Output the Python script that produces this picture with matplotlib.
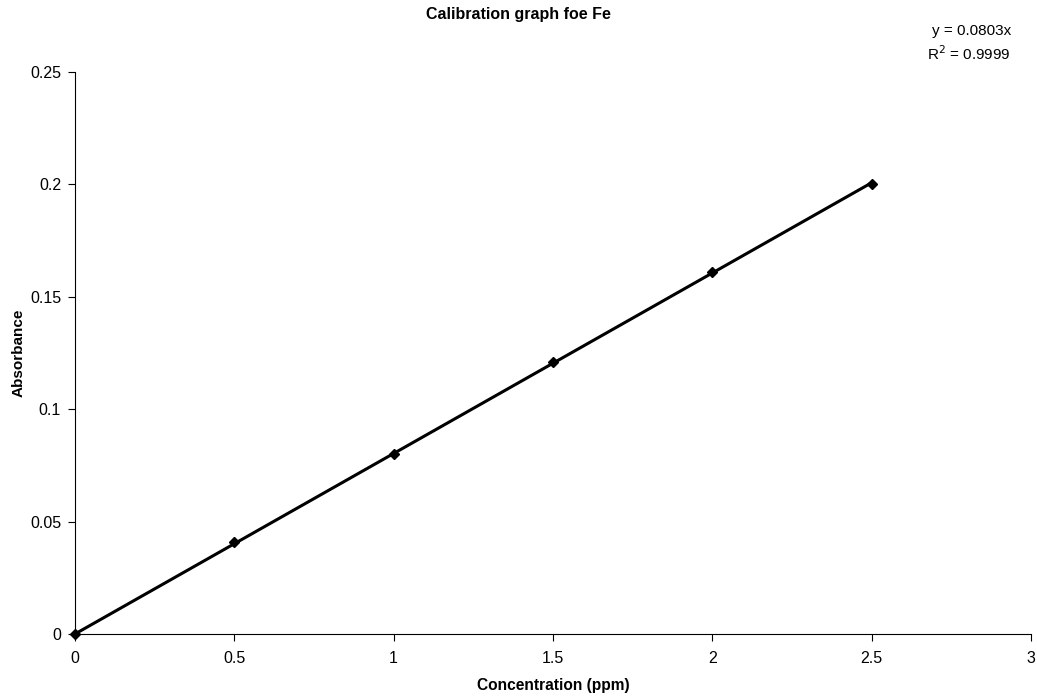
import numpy as np
import matplotlib.pyplot as plt

plt.rcParams['font.family'] = ['Liberation Sans', 'DejaVu Sans']

# Standards: concentration (ppm) vs measured absorbance
conc = [0, 0.5, 1.0, 1.5, 2.0, 2.5]
absorbance = [0.0, 0.041, 0.080, 0.121, 0.161, 0.200]
slope = 0.0803
r_squared = 0.9999

fig = plt.figure(figsize=(10.37, 7), dpi=100)
ax = fig.add_axes([0.0723, 0.0943, 0.9219, 0.8028])

# linear trendline through the origin
xfit = np.array([0, max(conc)])
ax.plot(xfit, slope * xfit, color='black', lw=2.2, zorder=2)
ax.plot(conc, absorbance, linestyle='none', marker='D', ms=5,
        color='black', zorder=3, clip_on=False)

ax.set_xlim(0, 3)
ax.set_ylim(0, 0.25)
ax.set_xticks([0, 0.5, 1, 1.5, 2, 2.5, 3])
ax.set_xticklabels(['0', '0.5', '1', '1.5', '2', '2.5', '3'])
ax.set_yticks([0, 0.05, 0.1, 0.15, 0.2, 0.25])
ax.set_yticklabels(['0', '0.05', '0.1', '0.15', '0.2', '0.25'])
ax.tick_params(direction='out', length=5, width=0.8, labelsize=11.5)
ax.tick_params(axis='x', pad=7)
ax.tick_params(axis='y', pad=5)

for side in ['top', 'right']:
    ax.spines[side].set_visible(False)
for side in ['left', 'bottom']:
    ax.spines[side].set_linewidth(0.8)

ax.set_xlabel('Concentration (ppm)', fontsize=11.2, fontweight='bold', labelpad=9)
ax.set_ylabel('Absorbance', fontsize=11, fontweight='bold', labelpad=3)
fig.text(0.5, 0.99, 'Calibration graph foe Fe', ha='center', va='top',
         fontsize=11.5, fontweight='bold')

fig.text(0.975, 0.966, f'y = {slope}x', ha='right', va='top', fontsize=11)
fig.text(0.975, 0.936, f'R$^2$ = {r_squared}', ha='right', va='top', fontsize=11)

fig.savefig('out.png', dpi=100)
